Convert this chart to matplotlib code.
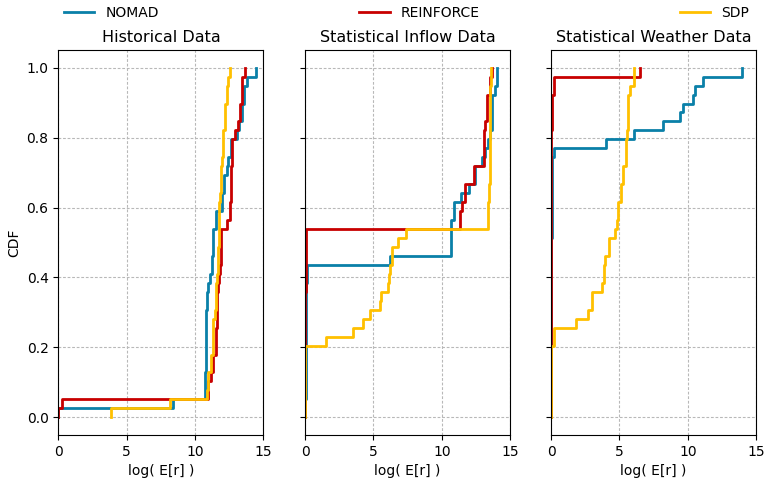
import matplotlib
matplotlib.use("Agg")
import matplotlib.pyplot as plt
import numpy as np

series_names = ["NOMAD", "REINFORCE", "SDP"]
series_colors = ["#0a80a8", "#c80000", "#ffc000"]
panel_titles = ["Historical Data", "Statistical Inflow Data", "Statistical Weather Data"]
x_ticks = [0, 5, 10, 15]
y_ticks = [0.0, 0.2, 0.4, 0.6, 0.8, 1.0]

# Sample values (log E[r]) for each method, read from the empirical CDFs
hist_nomad = [0.0, 8.4,
              10.74, 10.75, 10.76, 10.77, 10.78, 10.79, 10.8, 10.81, 10.82, 10.83, 10.84, 10.85,
              10.92, 11.09, 11.21, 11.21, 11.33, 11.33, 11.33, 11.5, 11.5, 11.94, 11.94,
              12.13, 12.13, 12.31, 12.43, 12.62, 12.62, 13.04, 13.23, 13.4, 13.4,
              13.6, 13.6, 13.77, 14.43]
hist_reinforce = [0.0, 0.3, 10.97, 10.97, 11.14, 11.33, 11.33, 11.5, 11.5,
                  11.56, 11.57, 11.58, 11.59, 11.6, 11.7, 11.75, 11.8,
                  11.86, 11.88, 11.89, 11.9, 12.35, 12.55, 12.55,
                  12.6, 12.61, 12.62, 12.63, 12.72, 12.72, 12.72, 12.92, 13.11,
                  13.28, 13.28, 13.4, 13.4, 13.4, 13.65]
hist_sdp = [3.85, 8.15, 10.9, 10.95, 10.97, 11.16, 11.16, 11.3, 11.32, 11.33, 11.34,
            11.48, 11.5, 11.5, 11.52, 11.62, 11.64, 11.66, 11.68,
            11.72, 11.74, 11.75, 11.76, 11.78, 11.85, 11.87, 11.87, 11.89,
            12.0, 12.02, 12.02, 12.04, 12.19, 12.19, 12.19, 12.31, 12.31, 12.43, 12.58]

inflow_nomad = [0.02, 0.03, 0.04, 0.05, 0.05, 0.06, 0.06, 0.07, 0.07, 0.08, 0.08, 0.09, 0.09, 0.1, 0.1,
                0.17, 0.17, 6.23, 10.7, 10.7, 10.7, 10.7, 10.87, 10.87, 11.44, 11.97,
                12.41, 12.41, 12.95, 13.15, 13.4, 13.56, 13.69, 13.69, 13.69, 13.69,
                13.88, 14.05, 14.05]
inflow_reinforce = [0.0, 0.0, 0.0, 0.0, 0.0, 0.0, 0.0,
                    0.03, 0.03, 0.03, 0.03, 0.03, 0.03, 0.03,
                    0.06, 0.06, 0.06, 0.06, 0.06, 0.06, 0.06,
                    11.3, 11.3, 11.49, 11.73, 11.73, 12.34, 12.34,
                    13.1, 13.12, 13.12, 13.12, 13.14, 13.32, 13.32, 13.32, 13.5, 13.56, 13.69]
inflow_sdp = [0.0, 0.0, 0.0, 0.0, 0.0, 0.0, 0.0, 0.0,
              1.54, 3.54, 4.23, 4.72, 5.5, 5.57, 6.1, 6.15, 6.18, 6.35, 6.35, 6.77, 7.4,
              13.39, 13.39, 13.39,
              13.45, 13.47, 13.49, 13.5, 13.5, 13.51, 13.51, 13.52, 13.52, 13.53, 13.54,
              13.55, 13.56, 13.58, 13.6]

weather_nomad = [0.0, 0.0, 0.0, 0.0, 0.0, 0.0, 0.0, 0.0, 0.0, 0.0,
                 0.02, 0.02, 0.02, 0.02, 0.02, 0.02, 0.02, 0.02, 0.02, 0.02,
                 0.05, 0.05, 0.05, 0.05, 0.05, 0.05, 0.05, 0.05, 0.05,
                 0.22, 4.02, 6.1, 8.16, 9.46, 9.63, 10.37, 10.51, 11.1, 13.95]
weather_reinforce = [0.0, 0.0, 0.0, 0.0, 0.0, 0.0, 0.0, 0.0, 0.0, 0.0, 0.0, 0.0,
                     0.01, 0.01, 0.01, 0.01, 0.01, 0.01, 0.01, 0.01, 0.01, 0.01,
                     0.03, 0.03, 0.03, 0.03, 0.03, 0.03, 0.03, 0.03, 0.03, 0.03,
                     0.07, 0.07, 0.07, 0.07, 0.22, 0.22, 6.5]
weather_sdp = [0.0, 0.0, 0.0, 0.0, 0.0, 0.0, 0.0, 0.0,
               0.22, 0.22, 1.86, 2.67, 2.96, 2.96, 3.7, 3.85, 3.9, 3.95, 4.24, 4.24,
               4.68, 4.8, 4.93, 4.93, 5.12, 5.12, 5.29, 5.29, 5.45, 5.47, 5.49,
               5.58, 5.6, 5.61, 5.62, 5.64, 5.78, 6.03, 6.03]

panels = [
    [hist_nomad, hist_reinforce, hist_sdp],
    [inflow_nomad, inflow_reinforce, inflow_sdp],
    [weather_nomad, weather_reinforce, weather_sdp],
]

fig = plt.figure(figsize=(7.65, 4.78), dpi=100)
lefts = [0.0762, 0.3987, 0.7203]
width = 0.2682
bottom = 0.0904
height = 0.8046

handles = []
for i, (left, title, data) in enumerate(zip(lefts, panel_titles, panels)):
    ax = fig.add_axes([left, bottom, width, height])
    for vals, name, col in zip(data, series_names, series_colors):
        x = np.sort(np.asarray(vals, dtype=float))
        n = len(x)
        y = np.arange(1, n + 1) / n
        xs = np.r_[x[0], x]
        ys = np.r_[0.0, y]
        ln, = ax.step(xs, ys, where="post", color=col, lw=2.0, label=name)
        if i == 0:
            handles.append(ln)
    ax.set_xlim(0, 15)
    ax.set_ylim(-0.05, 1.05)
    ax.set_xticks(x_ticks)
    ax.set_yticks(y_ticks)
    ax.grid(True, linestyle=(0, (2.5, 1.6)), color="#b8b8b8", lw=0.8)
    ax.set_axisbelow(True)
    ax.set_title(title, fontsize=11.5)
    ax.set_xlabel("log( E[r] )", fontsize=10)
    ax.tick_params(labelsize=10)
    for sp in ax.spines.values():
        sp.set_color("black")
    if i == 0:
        ax.set_ylabel("CDF", fontsize=10)
        ax.set_yticklabels([f"{v:.1f}" for v in y_ticks])
    else:
        ax.set_yticklabels([])

fig.legend(handles, series_names, loc="center", ncol=3, mode="expand",
           bbox_to_anchor=(0.0762, 0.973, 0.9869 - 0.0762, 0.0),
           frameon=False, fontsize=10, handlelength=2.2, borderaxespad=0.0)

fig.savefig("out.png", dpi=100)
